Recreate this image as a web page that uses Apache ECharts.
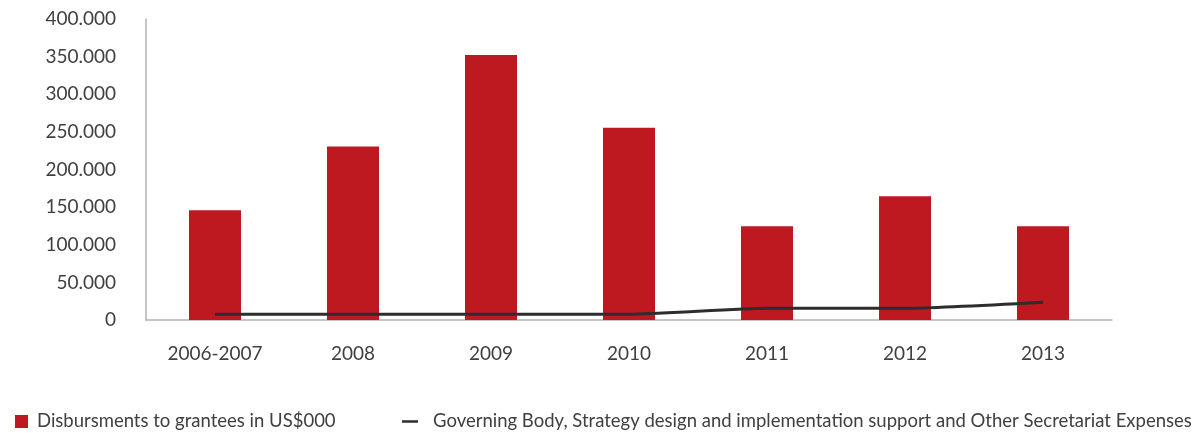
<!DOCTYPE html>
<html lang="en">
<head>
  <meta charset="UTF-8">
  <title>Disbursements</title>
  <script src="https://cdn.jsdelivr.net/npm/echarts@6.0.0/dist/echarts.min.js"></script>
  <style>
    html, body { margin: 0; padding: 0; background: #fff; }
    #main { width: 1197px; height: 433px; }
  </style>
</head>
<body>
  <div id="main"></div>
  <script>
    // categories and values
    const years = ['2006-2007', '2008', '2009', '2010', '2011', '2012', '2013'];
    const grantees = [146000, 230500, 352000, 255500, 124500, 164500, 124500];
    const governing = [7500, 7500, 7500, 7500, 15500, 15500, 23500];
    const yTicks = [0, 50000, 100000, 150000, 200000, 250000, 300000, 350000, 400000];

    const barName = 'Disbursments to grantees in US$000';
    const lineName = 'Governing Body, Strategy design and implementation support and Other Secretariat Expenses';

    const font = 'Lato';
    const textColor = '#404040';

    // 400000 -> "400.000"
    function fmt(v) {
      return String(v).replace(/\B(?=(\d{3})+(?!\d))/g, '.');
    }

    let myChart = echarts.init(document.getElementById('main'));

    let option = {
      animation: false,
      textStyle: { fontFamily: font },
      grid: { left: 146, right: 85, top: 19, bottom: 113 },
      legend: [
        {
          left: 10, top: 407,
          data: [{ name: barName, icon: 'rect' }],
          itemWidth: 13, itemHeight: 13,
          textStyle: { fontFamily: font, fontSize: 18.5, color: textColor, padding: [0, 0, 0, 4] }
        },
        {
          left: 397, top: 407,
          data: [{ name: lineName, icon: 'path://M0,0H16V2.5H0Z' }],
          itemWidth: 16, itemHeight: 2.5,
          textStyle: { fontFamily: font, fontSize: 18.5, color: textColor, padding: [0, 0, 0, 10] }
        }
      ],
      xAxis: {
        type: 'category',
        data: years,
        axisLine: { lineStyle: { color: '#b3b3b3', width: 1.5 } },
        axisTick: { show: false },
        axisLabel: { fontFamily: font, fontSize: 19, color: textColor, margin: 24 }
      },
      yAxis: {
        type: 'value',
        min: yTicks[0],
        max: yTicks[yTicks.length - 1],
        interval: yTicks[1] - yTicks[0],
        splitLine: { show: false },
        axisLine: { show: true, lineStyle: { color: '#b3b3b3', width: 1.5 } },
        axisTick: { show: false },
        axisLabel: { fontFamily: font, fontSize: 19, color: textColor, margin: 30, formatter: fmt }
      },
      series: [
        {
          name: barName,
          type: 'bar',
          data: grantees,
          barWidth: 52,
          itemStyle: { color: '#be1820' }
        },
        {
          name: lineName,
          type: 'line',
          data: governing,
          smooth: 0.2,
          symbol: 'none',
          lineStyle: { color: '#2d2d2d', width: 3 },
          itemStyle: { color: '#2d2d2d' }
        }
      ]
    };
    myChart.setOption(option);
  </script>
</body>
</html>
